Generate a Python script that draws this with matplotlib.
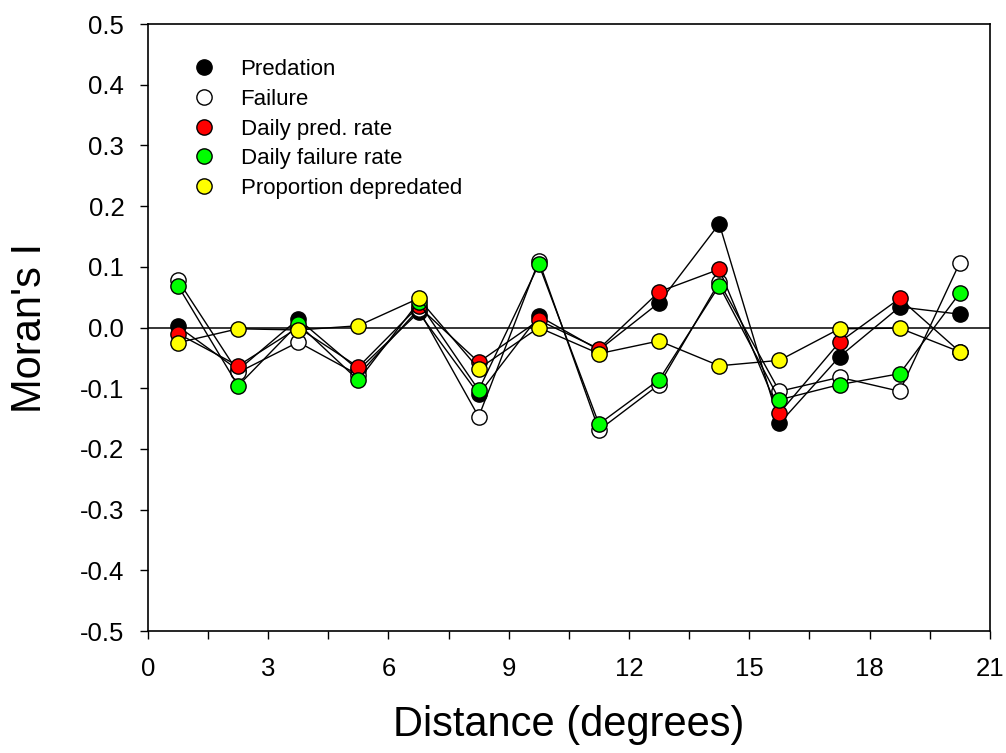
import numpy as np
import matplotlib
matplotlib.use("Agg")
import matplotlib.pyplot as plt
from matplotlib.ticker import MultipleLocator

plt.rcParams['font.family'] = ['Liberation Sans', 'DejaVu Sans']

# distance class midpoints (degrees)
dist = [0.75, 2.25, 3.75, 5.25, 6.75, 8.25, 9.75, 11.25, 12.75, 14.25, 15.75, 17.25, 18.75, 20.25]

predation = [0.002, -0.070, 0.014, -0.070, 0.025, -0.110, 0.019, -0.037, 0.041, 0.171, -0.158, -0.048, 0.034, 0.022]
failure = [0.078, -0.074, -0.024, -0.078, 0.030, -0.147, 0.110, -0.169, -0.094, 0.075, -0.105, -0.082, -0.105, 0.107]
daily_pred = [-0.010, -0.063, 0.000, -0.065, 0.035, -0.057, 0.012, -0.035, 0.059, 0.096, -0.141, -0.024, 0.048, -0.040]
daily_fail = [0.069, -0.096, 0.006, -0.087, 0.042, -0.103, 0.104, -0.159, -0.086, 0.069, -0.119, -0.094, -0.076, 0.057]
prop_dep = [-0.025, -0.002, -0.004, 0.003, 0.048, -0.068, 0.000, -0.043, -0.022, -0.063, -0.054, -0.002, -0.001, -0.040]

series = [
    ("Predation", predation, "black"),
    ("Failure", failure, "white"),
    ("Daily pred. rate", daily_pred, "red"),
    ("Daily failure rate", daily_fail, "#00ff00"),
    ("Proportion depredated", prop_dep, "yellow"),
]

fig = plt.figure(figsize=(10.06, 7.53), dpi=100)
ax = fig.add_axes([0.147, 0.162, 0.837, 0.806])

ax.axhline(0, color="black", linewidth=1.1, zorder=1)

for i, (name, vals, col) in enumerate(series):
    ax.plot(dist, vals, color="black", linewidth=1.0, marker="o", markersize=11,
            markerfacecolor=col, markeredgecolor="black", markeredgewidth=1.0,
            label=name, zorder=2 + i)

ax.set_xlim(0, 21)
ax.set_ylim(-0.5, 0.5)
ax.xaxis.set_major_locator(MultipleLocator(3))
ax.xaxis.set_minor_locator(MultipleLocator(1.5))
ticks = np.round(np.arange(-0.5, 0.51, 0.1), 1)
ax.set_yticks(ticks)
ax.set_yticklabels(["%.1f" % (t + 0.0) for t in ticks])
ax.tick_params(which="both", direction="out", length=6, width=1.0)
ax.tick_params(axis="x", which="major", labelsize=18.5, pad=13)
ax.tick_params(axis="y", which="major", labelsize=18.5, pad=11)
for s in ax.spines.values():
    s.set_linewidth(1.2)

ax.set_xlabel("Distance (degrees)", fontsize=30, va="center")
ax.xaxis.set_label_coords(0.5, -0.155)
ax.set_ylabel("Moran's I", fontsize=30, va="center")
ax.yaxis.set_label_coords(-0.140, 0.5)

leg = ax.legend(loc="upper left", bbox_to_anchor=(0.027, 0.975), frameon=False, fontsize=16,
                handlelength=1.2, handletextpad=1.05, labelspacing=0.39)
for h in leg.legend_handles:
    h.set_linestyle("None")
    h.set_markersize(11)

fig.savefig("out.png", dpi=100)
